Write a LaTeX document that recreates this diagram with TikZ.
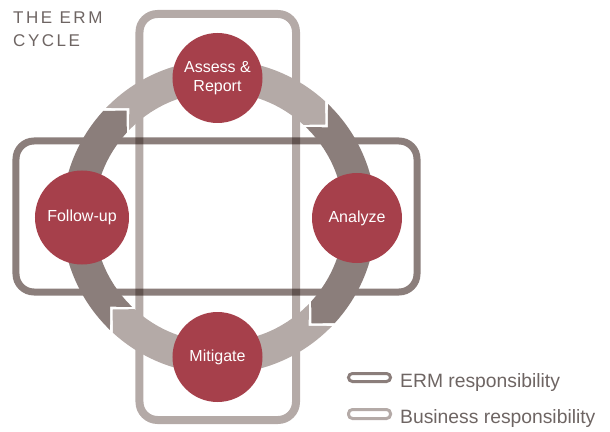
\documentclass[tikz,border=0pt]{standalone}
\usepackage{fontspec}
\setmainfont{Liberation Sans}
\newfontfamily\titlefont[LetterSpace=15]{Liberation Sans}
\usepackage{xcolor}
\usepackage{tikz}
\usetikzlibrary{calc, positioning}
\definecolor{ermdark}{RGB}{139, 126, 123}
\definecolor{bizlight}{RGB}{180, 170, 167}
\definecolor{stepred}{RGB}{166, 64, 75}
\definecolor{titlegray}{RGB}{110, 101, 99}

\tikzset{
  stage/.style={circle, fill=stepred, minimum size=90pt, inner sep=0pt,
    text=white, align=center, font=\fontsize{16}{19}\selectfont},
  keytext/.style={anchor=base west, inner sep=0pt, text=titlegray,
    font=\fontsize{19.3}{21}\selectfont},
  keybox/.style={line width=3pt, rounded corners=4pt},
}

\begin{document}
\begin{tikzpicture}[x=1pt, y=1pt]

  \useasboundingbox (-219, -214) rectangle (391, 217);

  \coordinate (O) at (0, 0);

  % Responsibility frames
  \begin{scope}[blend mode=multiply]
    \draw[bizlight, line width=8pt, rounded corners=18pt] (-79.5, 203) rectangle (77, -203);
    \draw[ermdark, line width=7pt, rounded corners=18pt] (-203, 76) rectangle (198, -75);
  \end{scope}

  % Ring of arrow segments (start angle / colour)
  \foreach \a/\c in {135/bizlight, 45/ermdark, -45/bizlight, -135/ermdark} {
    \fill[\c] ({\a+1}:157) arc[start angle=\a+1, end angle=\a-87.5, radius=157]
      -- ({\a-94}:141) -- ({\a-87.5}:125)
      arc[start angle=\a-87.5, end angle=\a+1, radius=125]
      -- ({\a-5.5}:141) -- cycle;
  }

  % Stages
  \node[stage] (assess)   at (-1.5, 139)  {Assess \&\\Report};
  \node[stage] (analyze)  at (138, -1)    {Analyze};
  \node[stage] (mitigate) at (-1.5, -140) {Mitigate};
  \node[stage, minimum size=94pt] (follow) at (-137, -0.5) {Follow-up};

  % Title
  \node[anchor=base west, inner sep=0pt, text=titlegray, font=\titlefont\fontsize{17}{20}\selectfont]
    (title) at (-206, 193) {THE ERM};
  \node[anchor=base west, inner sep=0pt, text=titlegray, font=\titlefont\fontsize{17}{20}\selectfont]
    (title2) at (-206, 170) {CYCLE};

  % Legend
  \draw[ermdark, keybox]   (129.5, -156.5) rectangle (171.5, -164.5);
  \draw[bizlight, keybox]  (129.5, -192.5) rectangle (171.5, -201.5);
  \node[keytext] (ermkey) at (181, -170) {ERM responsibility};
  \node[keytext] (bizkey) at (181, -206) {Business responsibility};

\end{tikzpicture}
\end{document}
